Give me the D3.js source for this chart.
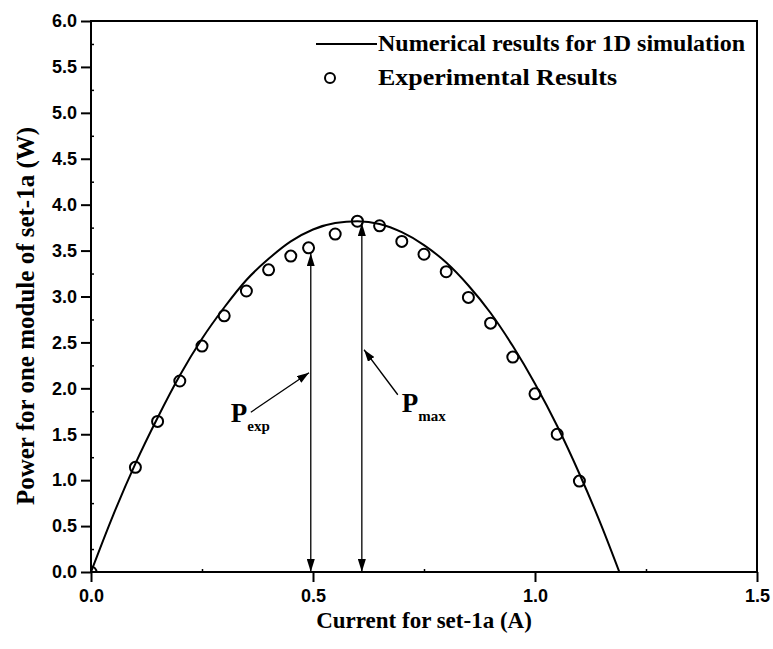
<!DOCTYPE html>
<html>
<head>
<meta charset="utf-8">
<script src="https://cdn.jsdelivr.net/npm/d3@7"></script>
<style>
  body { margin: 0; background: #fff; }
  .tick-label { font-family: "Liberation Sans", Arial, sans-serif; font-weight: bold; font-size: 18px; }
  .serif { font-family: "Liberation Serif", "Times New Roman", serif; font-weight: bold; }
</style>
</head>
<body>
<svg id="chart" width="773" height="649"></svg>
<script>
// 1D simulation curve: power vs current
const simCurrent = [0, 0.05, 0.10, 0.15, 0.20, 0.25, 0.30, 0.35, 0.40, 0.45, 0.50, 0.55, 0.60,
                    0.65, 0.70, 0.75, 0.80, 0.85, 0.90, 0.95, 1.00, 1.05, 1.10, 1.15, 1.19];
const simPower   = [0, 0.62, 1.18, 1.68, 2.14, 2.54, 2.88, 3.18, 3.41, 3.60, 3.73, 3.80, 3.82,
                    3.79, 3.70, 3.56, 3.37, 3.12, 2.82, 2.46, 2.05, 1.59, 1.07, 0.50, 0];

// Measured points
const expCurrent = [0, 0.10, 0.15, 0.20, 0.25, 0.30, 0.35, 0.40, 0.45, 0.49, 0.55, 0.60,
                    0.65, 0.70, 0.75, 0.80, 0.85, 0.90, 0.95, 1.00, 1.05, 1.10];
const expPower   = [0, 1.14, 1.64, 2.08, 2.46, 2.79, 3.06, 3.29, 3.44, 3.53, 3.68, 3.82,
                    3.77, 3.60, 3.46, 3.27, 2.99, 2.71, 2.34, 1.94, 1.50, 0.99];

// Axis ticks
const xTicks = [0, 0.5, 1.0, 1.5];
const xMinor = [0.25, 0.75, 1.25];
const yTicks = [0, 0.5, 1.0, 1.5, 2.0, 2.5, 3.0, 3.5, 4.0, 4.5, 5.0, 5.5, 6.0];
const yMinor = [0.25, 0.75, 1.25, 1.75, 2.25, 2.75, 3.25, 3.75, 4.25, 4.75, 5.25, 5.75];

// Vertical double arrows (current, power at top)
const arrowCurrent = [0.495, 0.61];
const arrowPower = [3.47, 3.80];
// Pointer lines to the arrows: [fromI, fromP, toI, toP]
const pointerExp = [0.360, 1.74, 0.491, 2.17];
const pointerMax = [0.691, 1.93, 0.615, 2.42];
// Label anchors [I, P]
const labelExp = [0.315, 1.63];
const labelMax = [0.700, 1.74];

const svg = d3.select("#chart");
const margin = { left: 91, right: 16, top: 21, bottom: 77 };
const W = 773, H = 649;
const x = d3.scaleLinear().domain([0, 1.5]).range([margin.left, W - margin.right]);
const y = d3.scaleLinear().domain([0, 6]).range([H - margin.bottom, margin.top]);

const defs = svg.append("defs");
defs.append("clipPath").attr("id", "plot-clip")
  .append("rect")
  .attr("x", x(0)).attr("y", y(6))
  .attr("width", x(1.5) - x(0)).attr("height", y(0) - y(6));

defs.append("marker").attr("id", "head-big")
  .attr("viewBox", "0 0 13 8").attr("refX", 13).attr("refY", 4)
  .attr("markerWidth", 13).attr("markerHeight", 8)
  .attr("markerUnits", "userSpaceOnUse").attr("orient", "auto-start-reverse")
  .append("path").attr("d", "M0,0 L13,4 L0,8 Z").attr("fill", "#000");
defs.append("marker").attr("id", "head-small")
  .attr("viewBox", "0 0 12 8").attr("refX", 12).attr("refY", 4)
  .attr("markerWidth", 12).attr("markerHeight", 8)
  .attr("markerUnits", "userSpaceOnUse").attr("orient", "auto")
  .append("path").attr("d", "M0,0 L12,4 L0,8 Z").attr("fill", "#000");

// Axes: major ticks outward, minor ticks inward
const xAxis = svg.append("g").attr("transform", `translate(0,${y(0)})`)
  .call(d3.axisBottom(x).tickValues(xTicks).tickSize(10).tickFormat(d3.format(".1f")));
xAxis.select(".domain").remove();
xAxis.selectAll(".tick line").attr("stroke-width", 2);
xAxis.selectAll(".tick text").attr("class", "tick-label").attr("dy", "0.71em").attr("y", 17).attr("fill", "#000");
svg.append("g").attr("transform", `translate(0,${y(0)})`)
  .call(d3.axisBottom(x).tickValues(xMinor).tickSize(-3).tickFormat(""))
  .call(g => g.select(".domain").remove())
  .selectAll(".tick line").attr("stroke-width", 1.5);

const yAxis = svg.append("g").attr("transform", `translate(${x(0)},0)`)
  .call(d3.axisLeft(y).tickValues(yTicks).tickSize(10).tickFormat(d3.format(".1f")));
yAxis.select(".domain").remove();
yAxis.selectAll(".tick line").attr("stroke-width", 2);
yAxis.selectAll(".tick text").attr("class", "tick-label").attr("x", -14).attr("fill", "#000");
svg.append("g").attr("transform", `translate(${x(0)},0)`)
  .call(d3.axisLeft(y).tickValues(yMinor).tickSize(-3).tickFormat(""))
  .call(g => g.select(".domain").remove())
  .selectAll(".tick line").attr("stroke-width", 1.5);

// Plot frame
svg.append("rect")
  .attr("x", x(0)).attr("y", y(6))
  .attr("width", x(1.5) - x(0)).attr("height", y(0) - y(6))
  .attr("fill", "none").attr("stroke", "#000").attr("stroke-width", 2);

const plot = svg.append("g").attr("clip-path", "url(#plot-clip)");

// Simulation curve
const simData = simCurrent.map((c, i) => [c, simPower[i]]);
plot.append("path")
  .datum(simData)
  .attr("fill", "none").attr("stroke", "#000").attr("stroke-width", 2)
  .attr("d", d3.line().x(d => x(d[0])).y(d => y(d[1])).curve(d3.curveMonotoneX));

// Experimental circles
plot.selectAll("circle.exp")
  .data(expCurrent.map((c, i) => [c, expPower[i]]))
  .join("circle").attr("class", "exp")
  .attr("cx", d => x(d[0])).attr("cy", d => y(d[1])).attr("r", 5.5)
  .attr("fill", "none").attr("stroke", "#000").attr("stroke-width", 2);

// Vertical double-headed arrows
svg.selectAll("line.varrow")
  .data(arrowCurrent.map((c, i) => [c, arrowPower[i]]))
  .join("line").attr("class", "varrow")
  .attr("x1", d => x(d[0])).attr("x2", d => x(d[0]))
  .attr("y1", y(0)).attr("y2", d => y(d[1]))
  .attr("stroke", "#000").attr("stroke-width", 1.3)
  .attr("marker-start", "url(#head-big)").attr("marker-end", "url(#head-big)");

// Pointer arrows
svg.selectAll("line.pointer")
  .data([pointerExp, pointerMax])
  .join("line").attr("class", "pointer")
  .attr("x1", d => x(d[0])).attr("y1", d => y(d[1]))
  .attr("x2", d => x(d[2])).attr("y2", d => y(d[3]))
  .attr("stroke", "#000").attr("stroke-width", 1.3)
  .attr("marker-end", "url(#head-small)");

// P labels with subscripts
[[labelExp, "exp"], [labelMax, "max"]].forEach(([pos, sub]) => {
  const t = svg.append("text").attr("class", "serif")
    .attr("x", x(pos[0])).attr("y", y(pos[1]))
    .attr("font-size", 27).attr("fill", "#000");
  t.append("tspan").text("P");
  t.append("tspan").attr("font-size", 15).attr("dy", 9).text(sub);
});

// Legend
const legX = 316, legY = 44;
svg.append("line").attr("x1", legX).attr("x2", legX + 61)
  .attr("y1", legY).attr("y2", legY).attr("stroke", "#000").attr("stroke-width", 2);
svg.append("text").attr("class", "serif").attr("x", legX + 62).attr("y", legY + 7)
  .attr("font-size", 24).attr("fill", "#000").text("Numerical results for 1D simulation");
svg.append("circle").attr("cx", legX + 14).attr("cy", legY + 34).attr("r", 5)
  .attr("fill", "none").attr("stroke", "#000").attr("stroke-width", 2);
svg.append("text").attr("class", "serif").attr("x", legX + 62).attr("y", legY + 41)
  .attr("font-size", 24).attr("fill", "#000")
  .attr("textLength", 239).attr("lengthAdjust", "spacingAndGlyphs")
  .text("Experimental Results");

// Axis titles
svg.append("text").attr("class", "serif")
  .attr("x", (x(0) + x(1.5)) / 2).attr("y", 628)
  .attr("text-anchor", "middle").attr("font-size", 23).attr("fill", "#000")
  .text("Current for set-1a (A)");
svg.append("text").attr("class", "serif")
  .attr("transform", `translate(34,316) rotate(-90)`)
  .attr("text-anchor", "middle").attr("font-size", 25).attr("fill", "#000")
  .text("Power for one module of set-1a (W)");
</script>
</body>
</html>
